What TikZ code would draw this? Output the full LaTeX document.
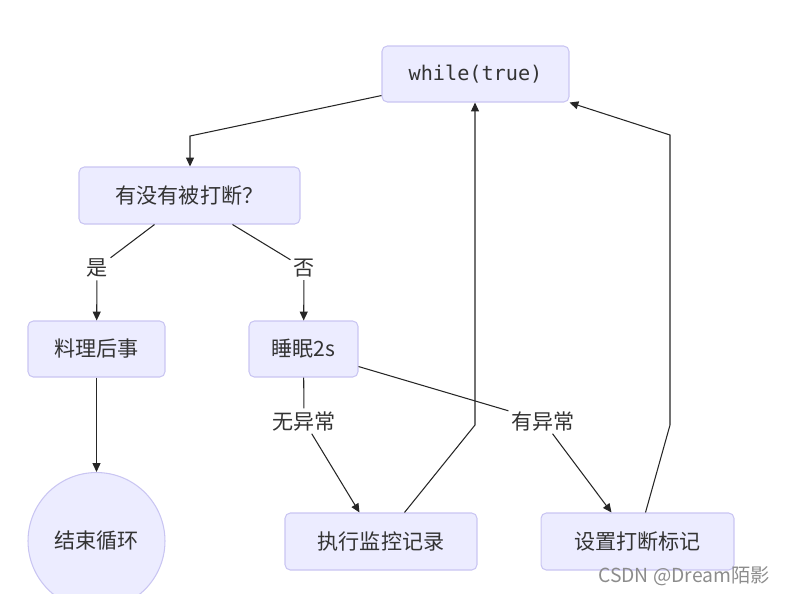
\documentclass[tikz,border=0pt]{standalone}
\usepackage{fontspec}
\usepackage{xcolor}
\usepackage{tikz}
\usetikzlibrary{arrows.meta, calc, shapes.geometric}
\setmonofont{DejaVu Sans Mono}
\newfontfamily\cjk{Noto Sans CJK SC}
\definecolor{boxFill}{HTML}{ECECFF}
\definecolor{boxLine}{HTML}{C9C5F2}
\definecolor{ink}{HTML}{333333}

\begin{document}
\begin{tikzpicture}[x=0.02cm, y=-0.02cm,
    font=\cjk\fontsize{12}{14}\selectfont, text=ink,
    box/.style={draw=boxLine, fill=boxFill, rounded corners=3pt, line width=0.6pt, inner sep=0pt},
    endnode/.style={draw=boxLine, fill=boxFill, circle, line width=0.6pt, inner sep=0pt, minimum size=2.74cm},
    tag/.style={fill=white, inner sep=1.5pt},
    flow/.style={draw=black!85, line width=0.6pt},
    arr/.style={flow, -{Triangle[length=5pt,width=4.5pt]}}]
    \useasboundingbox (0,0) rectangle (787,593);
    \clip (0,0) rectangle (787,593);

    % 节点
    \node[box, minimum width=3.74cm, minimum height=1.12cm, font=\ttfamily\fontsize{11.5}{13}\selectfont] (loop) at (475.5,74) {while(true)};
    \node[box, minimum width=4.42cm, minimum height=1.14cm] (ask) at (189.5,195.5) {有没有被打断？};
    \node[box, minimum width=2.74cm, minimum height=1.12cm] (handle) at (96.5,349) {料理后事};
    \node[box, minimum width=2.18cm, minimum height=1.12cm] (sleep) at (303.5,349) {睡眠2s};
    \node[endnode] (stop) at (96.5,541) {结束循环};
    \node[box, minimum width=3.84cm, minimum height=1.14cm] (record) at (381,541.5) {执行监控记录};
    \node[box, minimum width=3.86cm, minimum height=1.14cm] (flag) at (637.5,541.5) {设置打断标记};

    % 连线上的文字
    \node[tag] (yes) at (97,268) {是};
    \node[tag] (no) at (304,268) {否};
    \node[tag] (fine) at (304,421) {无异常};
    \node[tag] (fail) at (543,421) {有异常};

    % 折点
    \coordinate (b1) at (190,136);
    \coordinate (b2) at (475,425);
    \coordinate (b3) at (670,425);
    \coordinate (b4) at (670,135);

    % 连线
    \draw[arr] ($(loop.south west)+(0,-7)$) -- (b1) -- (ask.north -| b1);
    \draw[flow] ($(ask.south west)+(76,0)$) -- (yes);
    \draw[arr] (yes) -- (handle);
    \draw[flow] ($(ask.south west)+(154,0)$) -- (no);
    \draw[arr] (no) -- (sleep);
    \draw[arr] (handle) -- (stop);
    \draw[flow] (sleep) -- (fine);
    \draw[arr] (fine) -- ($(record.north west)+(75,0)$);
    \draw[flow] ($(sleep.south east)+(0,-11)$) -- (fail);
    \draw[arr] (fail) -- ($(flag.north west)+(71,0)$);
    \draw[arr] ($(record.north west)+(120,0)$) -- (b2) -- (loop.south -| b2);
    \draw[arr] ($(flag.north west)+(105,0)$) -- (b3) -- (b4) -- (loop.south east);

    % 水印
    \node[text=black!45, font=\fontsize{11}{13}\selectfont\cjk] (mark) at (684,576) {CSDN @Dream陌影};
\end{tikzpicture}
\end{document}
